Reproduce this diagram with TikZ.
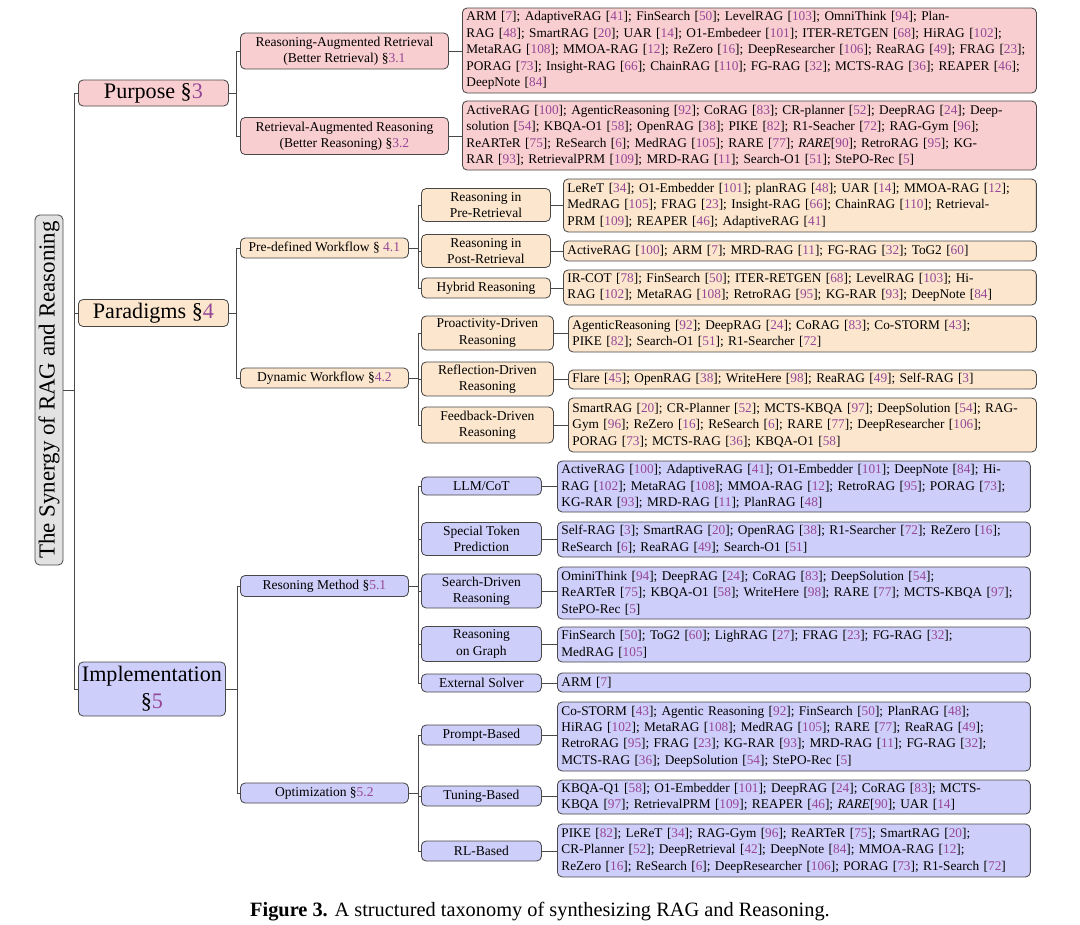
\documentclass[tikz,border=0pt]{standalone}
\usepackage{fontspec}
\setmainfont{Liberation Serif}
\definecolor{purc}{RGB}{249,206,208}
\definecolor{parc}{RGB}{252,231,206}
\definecolor{impc}{RGB}{206,206,250}
\definecolor{rootc}{RGB}{226,226,226}
\definecolor{edgec}{RGB}{72,72,72}
\definecolor{citec}{RGB}{150,70,150}
\newcommand{\ct}[1]{[\textcolor{citec}{#1}]}
\newcommand{\sn}[1]{\textcolor{citec}{#1}}
\tikzset{
  conn/.style={draw=edgec, line width=0.6pt},
  basebox/.style={draw=edgec, line width=0.7pt, rounded corners=4pt, inner xsep=3.4pt, inner ysep=0.5pt},
  smalltext/.style={font=\fontsize{11.5}{14}\selectfont},
  leaftext/.style={font=\fontsize{11.3}{14}\selectfont},
  leafbox/.style={basebox, leaftext, anchor=west, align=left},
  lvltwo/.style={basebox, smalltext, anchor=west, align=center},
  lvlone/.style={basebox, anchor=west, align=center, inner xsep=2pt, font=\fontsize{18.8}{23}\selectfont},
  rootbox/.style={basebox, fill=rootc, inner sep=0pt, font=\fontsize{19.5}{23}\selectfont},
  pur/.style={fill=purc}, par/.style={fill=parc}, imp/.style={fill=impc},
  wA/.style={text width=481.1pt},
  wB/.style={text width=395.2pt},
  wC/.style={text width=391pt},
}
\begin{document}
\begin{tikzpicture}[x=0.85pt, y=-0.85pt]
\useasboundingbox (0,0) rectangle (1080,925);

% root
\node[rootbox, rotate=90, minimum width=297.5pt, minimum height=23.8pt] (root) at (49,390) {The Synergy of RAG and Reasoning};

% level 1
\node[lvlone, pur, minimum width=127.5pt, minimum height=22.1pt] (purp) at (78,93) {Purpose §\sn{3}};
\node[lvlone, par, minimum width=127.5pt, minimum height=23pt] (para) at (78,313) {Paradigms §\sn{4}};
\node[lvlone, imp, minimum width=125pt, minimum height=45.9pt] (impl) at (78,689) {Implementation\\§\sn{5}};

% level 2
\node[lvltwo, pur, minimum width=176.8pt, minimum height=30.6pt] (p31) at (240,51) {Reasoning-Augmented Retrieval\\(Better Retrieval) §\sn{3.1}};
\node[lvltwo, pur, minimum width=176.8pt, minimum height=31.5pt] (p32) at (240,136) {Retrieval-Augmented Reasoning\\(Better Reasoning) §\sn{3.2}};
\node[lvltwo, par, minimum width=142.8pt, minimum height=17pt] (pre) at (240,248) {Pre-defined Workflow § \sn{4.1}};
\node[lvltwo, par, minimum width=142.8pt, minimum height=17pt] (dyn) at (240,378) {Dynamic Workflow §\sn{4.2}};
\node[lvltwo, imp, minimum width=142.8pt, minimum height=17.9pt] (rm) at (240,586) {Resoning Method §\sn{5.1}};
\node[lvltwo, imp, minimum width=142.8pt, minimum height=17pt] (opt) at (240,793) {Optimization §\sn{5.2}};

% level 3
\node[lvltwo, par, minimum width=109.7pt, minimum height=28pt] (prer) at (421,205) {Reasoning in\\Pre-Retrieval};
\node[lvltwo, par, minimum width=109.7pt, minimum height=28pt] (postr) at (421,251) {Reasoning in\\Post-Retrieval};
\node[lvltwo, par, minimum width=109.7pt, minimum height=17pt] (hyb) at (421,288) {Hybrid Reasoning};
\node[lvltwo, par, minimum width=112.2pt, minimum height=28.9pt] (pro) at (421,333) {Proactivity-Driven\\Reasoning};
\node[lvltwo, par, minimum width=112.2pt, minimum height=28.9pt] (refl) at (421,379) {Reflection-Driven\\Reasoning};
\node[lvltwo, par, minimum width=112.2pt, minimum height=30.6pt] (fb) at (421,425) {Feedback-Driven\\Reasoning};
\node[lvltwo, imp, minimum width=102pt, minimum height=15.3pt] (llm) at (421,486) {LLM/CoT};
\node[lvltwo, imp, minimum width=102pt, minimum height=28pt] (stp) at (421,539) {Special Token\\Prediction};
\node[lvltwo, imp, minimum width=102pt, minimum height=28.9pt] (sdr) at (421,591) {Search-Driven\\Reasoning};
\node[lvltwo, imp, minimum width=102pt, minimum height=29.75pt] (rog) at (421,644) {Reasoning\\on Graph};
\node[lvltwo, imp, minimum width=102pt, minimum height=15.3pt] (ext) at (421,683) {External Solver};
\node[lvltwo, imp, minimum width=102pt, minimum height=17pt] (pb) at (421,735) {Prompt-Based};
\node[lvltwo, imp, minimum width=102pt, minimum height=17pt] (tb) at (421,796) {Tuning-Based};
\node[lvltwo, imp, minimum width=102pt, minimum height=17pt] (rl) at (421,851) {RL-Based};

% leaves
\node[leafbox, pur, wA, minimum height=72.25pt] (lp1) at (462,50.5) {ARM \ct{7}; AdaptiveRAG \ct{41}; FinSearch \ct{50}; LevelRAG \ct{103}; OmniThink \ct{94}; Plan-\\RAG \ct{48}; SmartRAG \ct{20}; UAR \ct{14}; O1-Embedeer \ct{101}; ITER-RETGEN \ct{68}; HiRAG \ct{102};\\\mbox{MetaRAG \ct{108}; MMOA-RAG \ct{12}; ReZero \ct{16}; DeepResearcher \ct{106}; ReaRAG \ct{49}; FRAG \ct{23};}\\\mbox{PORAG \ct{73}; Insight-RAG \ct{66}; ChainRAG \ct{110}; FG-RAG \ct{32}; MCTS-RAG \ct{36}; REAPER \ct{46};}\\DeepNote \ct{84}};
\node[leafbox, pur, wA, minimum height=58.65pt] (lp2) at (462,135.5) {ActiveRAG \ct{100}; AgenticReasoning \ct{92}; CoRAG \ct{83}; CR-planner \ct{52}; DeepRAG \ct{24}; Deep-\\solution \ct{54}; KBQA-O1 \ct{58}; OpenRAG \ct{38}; PIKE \ct{82}; R1-Seacher \ct{72}; RAG-Gym \ct{96};\\ReARTeR \ct{75}; ReSearch \ct{6}; MedRAG \ct{105}; RARE \ct{77}; \textit{RARE}[\textcolor{citec}{90}]; RetroRAG \ct{95}; KG-\\RAR \ct{93}; RetrievalPRM \ct{109}; MRD-RAG \ct{11}; Search-O1 \ct{51}; StePO-Rec \ct{5}};

\node[leafbox, par, wB, minimum height=45pt] (lprer) at (563,205.5) {LeReT \ct{34}; O1-Embedder \ct{101}; planRAG \ct{48}; UAR \ct{14}; MMOA-RAG \ct{12};\\MedRAG \ct{105}; FRAG \ct{23}; Insight-RAG \ct{66}; ChainRAG \ct{110}; Retrieval-\\PRM \ct{109}; REAPER \ct{46}; AdaptiveRAG \ct{41}};
\node[leafbox, par, wB, minimum height=17pt] (lpostr) at (563,251) {ActiveRAG \ct{100}; ARM \ct{7}; MRD-RAG \ct{11}; FG-RAG \ct{32}; ToG2 \ct{60}};
\node[leafbox, par, wB, minimum height=29.75pt] (lhyb) at (563,287.5) {IR-COT \ct{78}; FinSearch \ct{50}; ITER-RETGEN \ct{68}; LevelRAG \ct{103}; Hi-\\RAG \ct{102}; MetaRAG \ct{108}; RetroRAG \ct{95}; KG-RAR \ct{93}; DeepNote \ct{84}};
\node[leafbox, par, wC, minimum height=30.6pt] (lpro) at (568,334) {AgenticReasoning \ct{92}; DeepRAG \ct{24}; CoRAG \ct{83}; Co-STORM \ct{43};\\PIKE \ct{82}; Search-O1 \ct{51}; R1-Searcher \ct{72}};
\node[leafbox, par, wC, minimum height=16.15pt] (lrefl) at (568,379.5) {Flare \ct{45}; OpenRAG \ct{38}; WriteHere \ct{98}; ReaRAG \ct{49}; Self-RAG \ct{3}};
\node[leafbox, par, wC, minimum height=45.9pt] (lfb) at (568,425) {SmartRAG \ct{20}; CR-Planner \ct{52}; MCTS-KBQA \ct{97}; DeepSolution \ct{54}; RAG-\\Gym \ct{96}; ReZero \ct{16}; ReSearch \ct{6}; RARE \ct{77}; DeepResearcher \ct{106};\\PORAG \ct{73}; MCTS-RAG \ct{36}; KBQA-O1 \ct{58}};

\node[leafbox, imp, wB, minimum height=43.35pt] (lllm) at (557,486.5) {ActiveRAG \ct{100}; AdaptiveRAG \ct{41}; O1-Embedder \ct{101}; DeepNote \ct{84}; Hi-\\RAG \ct{102}; MetaRAG \ct{108}; MMOA-RAG \ct{12}; RetroRAG \ct{95}; PORAG \ct{73};\\KG-RAR \ct{93}; MRD-RAG \ct{11}; PlanRAG \ct{48}};
\node[leafbox, imp, wB, minimum height=29.75pt] (lstp) at (557,539.5) {Self-RAG \ct{3}; SmartRAG \ct{20}; OpenRAG \ct{38}; R1-Searcher \ct{72}; ReZero \ct{16};\\ReSearch \ct{6}; ReaRAG \ct{49}; Search-O1 \ct{51}};
\node[leafbox, imp, wB, minimum height=44.2pt] (lsdr) at (557,593) {OminiThink \ct{94}; DeepRAG \ct{24}; CoRAG \ct{83}; DeepSolution \ct{54};\\ReARTeR \ct{75}; KBQA-O1 \ct{58}; WriteHere \ct{98}; RARE \ct{77}; MCTS-KBQA \ct{97};\\StePO-Rec \ct{5}};
\node[leafbox, imp, wB, minimum height=29.75pt] (lrog) at (557,644.5) {FinSearch \ct{50}; ToG2 \ct{60}; LighRAG \ct{27}; FRAG \ct{23}; FG-RAG \ct{32};\\MedRAG \ct{105}};
\node[leafbox, imp, wB, minimum height=16.15pt] (lext) at (557,682.5) {ARM \ct{7}};
\node[leafbox, imp, wB, minimum height=58.65pt] (lpb) at (557,736.5) {Co-STORM \ct{43}; Agentic Reasoning \ct{92}; FinSearch \ct{50}; PlanRAG \ct{48};\\HiRAG \ct{102}; MetaRAG \ct{108}; MedRAG \ct{105}; RARE \ct{77}; ReaRAG \ct{49};\\RetroRAG \ct{95}; FRAG \ct{23}; KG-RAR \ct{93}; MRD-RAG \ct{11}; FG-RAG \ct{32};\\MCTS-RAG \ct{36}; DeepSolution \ct{54}; StePO-Rec \ct{5}};
\node[leafbox, imp, wB, minimum height=28.9pt] (ltb) at (557,797) {KBQA-Q1 \ct{58}; O1-Embedder \ct{101}; DeepRAG \ct{24}; CoRAG \ct{83}; MCTS-\\KBQA \ct{97}; RetrievalPRM \ct{109}; REAPER \ct{46}; \textit{RARE}[\textcolor{citec}{90}]; UAR \ct{14}};
\node[leafbox, imp, wB, minimum height=45pt] (lrl) at (557,850.5) {PIKE \ct{82}; LeReT \ct{34}; RAG-Gym \ct{96}; ReARTeR \ct{75}; SmartRAG \ct{20};\\CR-Planner \ct{52}; DeepRetrieval \ct{42}; DeepNote \ct{84}; MMOA-RAG \ct{12};\\ReZero \ct{16}; ReSearch \ct{6}; DeepResearcher \ct{106}; PORAG \ct{73}; R1-Search \ct{72}};

% caption
\node[font=\fontsize{17.3}{20}\selectfont, inner sep=0pt] (cap) at (540,912) {\textbf{Figure 3.} A structured taxonomy of synthesizing RAG and Reasoning.};

% connectors: root -> level 1
\foreach \c in {purp,para,impl} \draw[conn] (root.south) -- ++(11,0) |- (\c.west);
% level 1 -> level 2
\foreach \c in {p31,p32} \draw[conn] (purp.east) -- ++(8,0) |- (\c.west);
\foreach \c in {pre,dyn} \draw[conn] (para.east) -- ++(8,0) |- (\c.west);
\foreach \c in {rm,opt} \draw[conn] (impl.east) -- ++(11,0) |- (\c.west);
% level 2 -> level 3
\foreach \c in {prer,postr,hyb} \draw[conn] (pre.east) -- ++(10,0) |- (\c.west);
\foreach \c in {pro,refl,fb} \draw[conn] (dyn.east) -- ++(10,0) |- (\c.west);
\foreach \c in {llm,stp,sdr,rog,ext} \draw[conn] (rm.east) -- ++(10,0) |- (\c.west);
\foreach \c in {pb,tb,rl} \draw[conn] (opt.east) -- ++(10,0) |- (\c.west);
% to leaves
\draw[conn] (p31.east) -- (p31.east -| lp1.west);
\draw[conn] (p32.east) -- (p32.east -| lp2.west);
\foreach \a/\b in {prer/lprer,postr/lpostr,hyb/lhyb,pro/lpro,refl/lrefl,fb/lfb,llm/lllm,stp/lstp,sdr/lsdr,rog/lrog,ext/lext,pb/lpb,tb/ltb,rl/lrl}
  \draw[conn] (\a.east) -- (\a.east -| \b.west);
\end{tikzpicture}
\end{document}
